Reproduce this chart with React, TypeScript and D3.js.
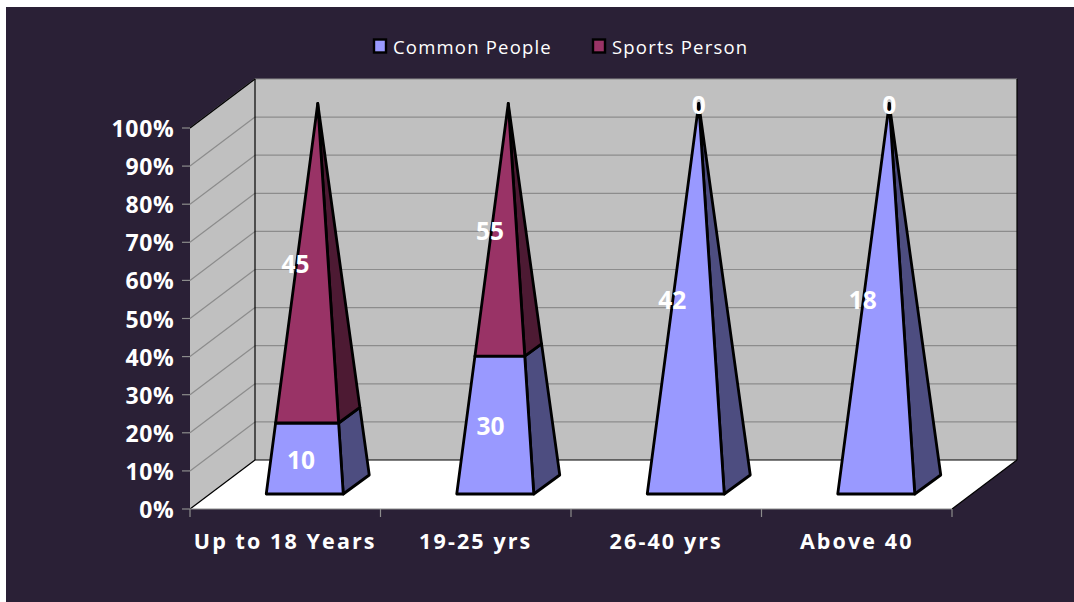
import React, { useMemo } from "react";
import * as d3 from "d3";

const categories = ["Up to 18 Years", "19-25 yrs", "26-40 yrs", "Above 40"];
const seriesNames = ["Common People", "Sports Person"];
const commonPeople = [10, 30, 42, 18];
const sportsPerson = [45, 55, 0, 0];
const percentTicks = [0, 10, 20, 30, 40, 50, 60, 70, 80, 90, 100];

const faceColors = ["#9999ff", "#993366"];
const sideColors = ["#4d4d80", "#4d1a33"];

// Horizontal shift of each value label, per series then category.
const labelShift = [
  [-5, -7, -20, -20],
  [-17, -14, 0, 0],
];

const W = 1074;
const H = 602;
const FONT = "'Open Sans', 'Noto Sans', sans-serif";

// Front plane of the box and the oblique offset to its back plane.
const left = 190;
const right = 952;
const bottom = 509;
const top = 128;
const depthX = 65;
const depthY = -49;
// Half footprint of a pyramid: width, then depth offset.
const halfW = 38.5;
const halfDX = 13;
const halfDY = -9.5;

type P = [number, number];
const lerp = (a: P, b: P, t: number): P => [a[0] + (b[0] - a[0]) * t, a[1] + (b[1] - a[1]) * t];
const pts = (p: P[]) => p.map((q) => q.join(",")).join(" ");

export default function App() {
  const y = useMemo(() => d3.scaleLinear().domain([0, 100]).range([bottom, top]), []);
  const x = useMemo(() => d3.scaleBand<string>().domain(categories).range([left, right]), []);

  const rows = categories.map((c, i) => ({ c, s0: commonPeople[i], s1: sportsPerson[i] }));
  const stacked = d3.stack<any>().keys(["s0", "s1"]).offset(d3.stackOffsetExpand)(rows);

  const tickXs = d3.range(categories.length + 1).map((i) => left + i * x.bandwidth());

  return (
    <svg
      width={W}
      height={H}
      viewBox={`0 0 ${W} ${H}`}
      style={{ position: "absolute", left: 0, top: 0, background: "#fff" }}
      fontFamily={FONT}
    >
      <rect x={6} y={7} width={W - 6} height={H - 7} fill="#2a2036" />

      {/* Walls and floor */}
      <rect x={left + depthX} y={top + depthY} width={right - left} height={bottom - top} fill="#c0c0c0" />
      <polygon
        points={pts([[left, top], [left + depthX, top + depthY], [left + depthX, bottom + depthY], [left, bottom]])}
        fill="#c0c0c0"
      />
      <polygon
        points={pts([[left, bottom], [left + depthX, bottom + depthY], [right + depthX, bottom + depthY], [right, bottom]])}
        fill="#ffffff"
      />

      {/* Gridlines across both walls */}
      {percentTicks.slice(1).map((t) => (
        <g key={t} stroke="#8c8c8c" strokeWidth={1.2} fill="none">
          <line x1={left} y1={y(t)} x2={left + depthX} y2={y(t) + depthY} />
          <line x1={left + depthX} y1={y(t) + depthY} x2={right + depthX} y2={y(t) + depthY} />
        </g>
      ))}

      {/* Box edges */}
      <g stroke="#000" strokeWidth={1.2} fill="none">
        <line x1={left} y1={top} x2={left + depthX} y2={top + depthY} />
        <line x1={left + depthX} y1={top + depthY} x2={left + depthX} y2={bottom + depthY} />
        <line x1={left} y1={bottom} x2={left + depthX} y2={bottom + depthY} />
        <line x1={left + depthX} y1={bottom + depthY} x2={right + depthX} y2={bottom + depthY} />
        <line x1={right + depthX} y1={bottom + depthY} x2={right} y2={bottom} />
        <line x1={right + depthX} y1={top + depthY} x2={right + depthX} y2={bottom + depthY} />
      </g>

      {/* Axes */}
      <g stroke="#8c8c8c" strokeWidth={1.2}>
        <line x1={left} y1={bottom} x2={right} y2={bottom} />
        {percentTicks.map((t) => (
          <line key={t} x1={left - 8} y1={y(t)} x2={left} y2={y(t)} />
        ))}
        {tickXs.map((tx) => (
          <line key={tx} x1={tx} y1={bottom} x2={tx} y2={bottom + 8} />
        ))}
      </g>
      {percentTicks.map((t) => (
        <text key={t} x={174.5} y={y(t) + 9} textAnchor="end" fill="#fff" fontWeight={700} fontSize={23} letterSpacing={0.7}>
          {t}%
        </text>
      ))}
      {categories.map((c) => (
        <text
          key={c}
          x={x(c)! + x.bandwidth() / 2}
          y={549}
          textAnchor="middle"
          fill="#fff"
          fontWeight={700}
          fontSize={21.5}
          letterSpacing={2.1}
        >
          {c}
        </text>
      ))}

      {/* Stacked pyramids, one per category */}
      {categories.map((c, i) => {
        const cx = x(c)! + x.bandwidth() / 2 + depthX / 2;
        const cy = bottom + depthY / 2;
        const apex: P = [cx, y(100) + depthY / 2];
        const fl: P = [cx - halfW - halfDX, cy - halfDY];
        const fr: P = [cx + halfW - halfDX, cy - halfDY];
        const br: P = [cx + halfW + halfDX, cy + halfDY];
        return (
          <g key={c} stroke="#000" strokeWidth={2.8} strokeLinejoin="round">
            {stacked.map((s, k) => {
              const [a, b] = s[i];
              if (b - a <= 0) return null;
              return (
                <g key={k}>
                  <polygon
                    points={pts([lerp(fr, apex, a), lerp(br, apex, a), lerp(br, apex, b), lerp(fr, apex, b)])}
                    fill={sideColors[k]}
                  />
                  <polygon
                    points={pts([lerp(fl, apex, a), lerp(fr, apex, a), lerp(fr, apex, b), lerp(fl, apex, b)])}
                    fill={faceColors[k]}
                  />
                </g>
              );
            })}
          </g>
        );
      })}

      {/* Value labels */}
      {categories.map((c, i) => {
        const cx = x(c)! + x.bandwidth() / 2 + depthX / 2;
        const cy = bottom + depthY / 2;
        const apex: P = [cx, y(100) + depthY / 2];
        const fm: P = [cx - halfDX, cy - halfDY];
        return stacked.map((s, k) => {
          const [a, b] = s[i];
          const p = lerp(fm, apex, (a + b) / 2);
          return (
            <text
              key={`${c}${k}`}
              x={p[0] + labelShift[k][i]}
              y={p[1] + 10}
              textAnchor="middle"
              fill="#fff"
              fontWeight={700}
              fontSize={24.5}
            >
              {k === 0 ? commonPeople[i] : sportsPerson[i]}
            </text>
          );
        });
      })}

      {/* Legend */}
      {seriesNames.map((n, k) => {
        const lx = 374 + k * 219;
        return (
          <g key={n}>
            <rect x={lx} y={39.5} width={12} height={13} fill={faceColors[k]} stroke="#000" strokeWidth={2.4} />
            <text x={lx + 19} y={54} fill="#fff" fontSize={18.5} letterSpacing={1.2}>
              {n}
            </text>
          </g>
        );
      })}
    </svg>
  );
}
